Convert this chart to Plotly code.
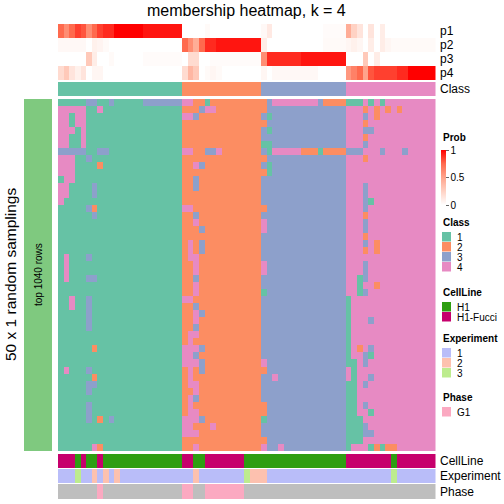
import plotly.graph_objects as go

W = H = 504

# ---------------- data ----------------
n_cols = 67
classes = [1]*22 + [2]*14 + [3]*15 + [4]*16

p1 = [.75,.6,.75,.85,.8,.6,.75,.85,.9,.9,1,1,1,1,1,.95,.95,.95,.95,.95,.95,.95,
      0,0,0,0,.03,0,0,0,0,0,0,0,0,0,
      .04,.12,0,0,0,0,0,0,0,0,0,.02,.02,.02,.02,
      .45,.25,.15,0,.15,0,.1,0,0,0,0,0,0,0,0,0]
p2 = [.04,.04,.04,.04,.04,0,.08,.06,.03,0,0,0,0,0,0,0,0,0,0,0,0,0,
      .75,.6,.45,.75,.9,.9,.95,.95,.95,.95,.95,.95,.95,.95,
      .1,0,0,0,0,0,0,0,0,0,0,.03,.03,.03,.03,
      .05,.08,.05,0,.1,0,.1,.05,.03,.03,.03,.03,.03,.03,.03,.03]
p3 = [0,0,0,0,0,.3,.1,0,0,.03,0,0,0,0,0,.02,.02,.02,.02,.02,.02,.02,
      0,.2,.2,0,0,.02,.02,.02,.02,.02,.02,.02,.02,.02,
      .6,.9,.9,.9,.9,.9,.9,.95,.95,.95,.95,.95,.95,.95,.95,
      0,0,0,.3,0,.1,0,0,0,0,0,0,0,0,0,0]
p4 = [.2,.3,.15,.08,.15,0,.05,.05,0,0,0,0,0,0,0,0,0,0,0,0,0,0,
      .2,.4,.3,0,.03,.05,.03,0,0,0,0,0,0,0,
      .05,0,.04,.04,.04,.04,.04,.04,.04,.04,0,0,0,0,0,
      .55,.65,.75,.5,.8,.85,.85,.85,.85,.9,.9,1,1,1,1,1]

# membership of each sampling (rows) per sample (columns)
membership_rows = [
    "1111133113111113333333" "44221222222222" "234444444432222" "1114141444444444",
    "4444411411111111111111" "22234422222222" "233333333333333" "4442424242444444",
    "4414411111111111111111" "44322222222222" "313333333333333" "4443424444444444",
    "4414411111111111111111" "22222222222222" "233333333333333" "4442444444444444",
    "4441411111111111111111" "22222222222222" "313333333333333" "4443344444444444",
    "4411411111111111111111" "22222222222222" "333333333333333" "4442444444444444",
    "4411411111111111111111" "22222222222222" "113333333333333" "4443444444444444",
    "3333311331111111111111" "44223342222222" "314444422212222" "3334443444344444",
    "4441131111111111111111" "22222222222222" "233333333333333" "4442444444444444",
    "4441111211111111111111" "22432222222222" "313333333333333" "4444444444444444",
    "4441111111111111111111" "22222222222222" "213333333333333" "4444444444444444",
    "1441111111111111111111" "22322222222222" "333333333333333" "4444444444444444",
    "4411113111111111111111" "22322222222222" "333333333333333" "4443444444444444",
    "4411113111111111111111" "22222222222222" "333333333333333" "4443444444444444",
    "4111111111111111111111" "22222222222222" "333333333333333" "4443144444444444",
    "1111132111111111111111" "44222222222222" "233333333333333" "4443444444444444",
    "1111113111111111111111" "22322222222222" "333333333333333" "4442444444444444",
    "1111111111111111111111" "22422222222222" "433333333333333" "4443444444444444",
    "1111111111111111111111" "22232222222222" "433333333333333" "4443444444444444",
    "1111111111111111111111" "22222222222222" "333333333333333" "4442444444444444",
    "1111111111111111111111" "24232222222222" "333333333333333" "4443424444444444",
    "1111111111111111111111" "24232222222222" "333333333333333" "4442424444444444",
    "1411131111111111111111" "24422222222222" "333333333333333" "4444444444444444",
    "1411111111111111111111" "22422222222222" "433333333333333" "4443444444444444",
    "1411111111111111111111" "22422222222222" "433333333333333" "4443444444444444",
    "1411133111111111111111" "22322222222222" "333333333333333" "4413444444444444",
    "1111111111111111111111" "22422222222222" "333333333333333" "4414424444444444",
    "1111111111111111111111" "22422222222222" "133333333333333" "4413444444444444",
    "1141131111111111111111" "44222222222222" "333333333333333" "1444444444444444",
    "1141131111111111111111" "22322222222222" "333333333333333" "1444444444444444",
    "1111131111111111111111" "22432222222222" "333333333333333" "1444444444444444",
    "1111131111111111111111" "22422222222222" "333333333333333" "1444344444444444",
    "1111131111111111111111" "22322222222222" "333333333333333" "1444444444444444",
    "1111111111111111111111" "24422222222222" "333333333333333" "1444444444444444",
    "1111111111111111111111" "24222222222222" "333333333333333" "1444444444444444",
    "1111112111111111111111" "44432222222222" "333333333333333" "1424344444444444",
    "1111111111111111111111" "44322222222222" "333333333333333" "1443144444444444",
    "1111111111111111111111" "44432222222222" "433333333333333" "1143444444444444",
    "1411131111111111111111" "24232222222222" "233333333333333" "4144444444444444",
    "1111112111111111111111" "24222222222222" "334333333333333" "4144344444444444",
    "1111133111111111111111" "24422222222222" "333333333333333" "1143444444444444",
    "1111131111111111111111" "22422222222222" "333333333333333" "1144444444444444",
    "1111111111111111111111" "24322222222222" "333333333333333" "1144444444444444",
    "1111131111111111111111" "24222222222222" "233333333333333" "1143444444444444",
    "1111131111111111111111" "24422222222222" "233333333333333" "1144144444444444",
    "1111131213111111111111" "44432222222222" "133333333333333" "1114444444444444",
    "1111111111111111111111" "44222422222222" "333333333333333" "1113444444444444",
    "1111111111111111111111" "44422222222222" "333333333333333" "1113344444444444",
    "1111111111111111111111" "22222222222222" "233333333333333" "1114444444444444",
    "1111114211111111111111" "22422222222222" "433433333333333" "1444121224444444",
]

# CellLine: 0 = H1, 1 = H1-Fucci
cellline = [1,1,1,0,1,0,0,1] + [0]*14 + [1,1,0,0] + [1]*7 + [0]*18 + [1]*8 + [0] + [1]*7
# Experiment: 1, 2, 3
experiment = [1,1,1,3,1,1,2,1,2,1,2] + [1]*13 + [2] + [1]*8 + [3,2,2,2] + [1]*22 + [3] + [1]*7
# Phase: 0 = NA, 1 = G1
phase = [0]*7 + [1] + [0]*14 + [1,1,0,0] + [1]*7 + [0]*34

class_labels = ["1", "2", "3", "4"]
cellline_labels = ["H1", "H1-Fucci"]
experiment_labels = ["1", "2", "3"]
phase_labels = ["G1"]

# ---------------- styles ----------------
class_colors = ["#66C2A5", "#FC8D62", "#8DA0CB", "#E78AC3"]
cellline_colors = ["#2E9E12", "#C6006C"]
experiment_colors = ["#B9BDF9", "#FDC1AF", "#BDEC8E"]
phase_colors = ["#BEBEBE", "#FBA9C1"]
prob_scale = [[0, "#FFFFFF"], [0.25, "#FFD2C4"], [0.5, "#FFA48C"], [0.75, "#FF6A4E"], [1, "#FF0000"]]
FONT = "Liberation Sans, Arial, Helvetica, sans-serif"


def discrete_scale(colors):
    n = len(colors)
    sc = []
    for i, c in enumerate(colors):
        sc.append([i / n, c])
        sc.append([(i + 1) / n, c])
    return sc


def px(x):
    return x / W


def py(y):
    return 1 - y / H


membership = [[int(ch) for ch in row] for row in membership_rows]
cols = list(range(n_cols))

fig = go.Figure()

# probability rows
fig.add_trace(go.Heatmap(
    z=[p1, p2, p3, p4], x=cols, y=[0, 1, 2, 3], xaxis="x", yaxis="y2",
    colorscale=prob_scale, zmin=0, zmax=1, hoverinfo="skip",
    colorbar=dict(x=px(441), xanchor="left", y=py(150), yanchor="top",
                  len=55, lenmode="pixels", thickness=5, thicknessmode="pixels",
                  xpad=0, ypad=0, outlinewidth=0,
                  tickvals=[0, 0.5, 1], ticktext=["0", "0.5", "1"],
                  ticks="outside", ticklen=3, tickcolor="#666",
                  tickfont=dict(size=10, family=FONT, color="#000")),
))
# class annotation (top)
fig.add_trace(go.Heatmap(
    z=[classes], x=cols, y=[0], xaxis="x", yaxis="y3",
    colorscale=discrete_scale(class_colors), zmin=0.5, zmax=4.5, showscale=False, hoverinfo="skip"))
# main membership heatmap
fig.add_trace(go.Heatmap(
    z=membership, x=cols, y=list(range(len(membership))), xaxis="x", yaxis="y",
    colorscale=discrete_scale(class_colors), zmin=0.5, zmax=4.5, showscale=False, hoverinfo="skip"))
# bottom annotations
fig.add_trace(go.Heatmap(
    z=[cellline], x=cols, y=[0], xaxis="x", yaxis="y4",
    colorscale=discrete_scale(cellline_colors), zmin=-0.5, zmax=1.5, showscale=False, hoverinfo="skip"))
fig.add_trace(go.Heatmap(
    z=[experiment], x=cols, y=[0], xaxis="x", yaxis="y5",
    colorscale=discrete_scale(experiment_colors), zmin=0.5, zmax=3.5, showscale=False, hoverinfo="skip"))
fig.add_trace(go.Heatmap(
    z=[phase], x=cols, y=[0], xaxis="x", yaxis="y6",
    colorscale=discrete_scale(phase_colors), zmin=-0.5, zmax=1.5, showscale=False, hoverinfo="skip"))

hid = dict(visible=False, fixedrange=True)
fig.update_layout(
    width=W, height=H, margin=dict(l=0, r=0, t=0, b=0),
    paper_bgcolor="white", plot_bgcolor="white", showlegend=False,
    font=dict(family=FONT, size=12, color="#000"),
    xaxis=dict(domain=[px(58), px(435.5)], range=[-0.5, n_cols - 0.5], anchor="y", **hid),
    yaxis=dict(domain=[py(451), py(99)], range=[len(membership) - 0.5, -0.5], **hid),
    yaxis2=dict(domain=[py(80), py(24)], range=[3.5, -0.5], anchor="x", **hid),
    yaxis3=dict(domain=[py(96), py(82)], range=[0.5, -0.5], anchor="x", **hid),
    yaxis4=dict(domain=[py(468), py(454)], range=[0.5, -0.5], anchor="x", **hid),
    yaxis5=dict(domain=[py(483), py(469)], range=[0.5, -0.5], anchor="x", **hid),
    yaxis6=dict(domain=[py(499), py(484)], range=[0.5, -0.5], anchor="x", **hid),
)

shapes = []
ann = []


def text(x, y, s, size=12, bold=False, xanchor="left", angle=0):
    ann.append(dict(x=px(x), y=py(y), xref="paper", yref="paper", text=("<b>%s</b>" % s) if bold else s,
                    showarrow=False, xanchor=xanchor, yanchor="middle", textangle=angle,
                    font=dict(size=size, family=FONT, color="#000")))


# title
text(246.5, 10, "membership heatmap, k = 4", size=16, xanchor="center")
# row labels right
for lab, yc in [("p1", 31), ("p2", 45), ("p3", 59), ("p4", 73), ("Class", 89),
                ("CellLine", 461), ("Experiment", 476), ("Phase", 491.5)]:
    text(438, yc, lab, size=12)

# left bar
shapes.append(dict(type="rect", xref="paper", yref="paper", x0=px(24), x1=px(52), y0=py(451), y1=py(99),
                   fillcolor="#7FC97F", line=dict(width=0)))
text(38, 275, "top 1040 rows", size=10, xanchor="center", angle=-90)
text(10, 275, "50 x 1 random samplings", size=15.5, xanchor="center", angle=-90)

# legends
text(441, 137.5, "Prob", size=10, bold=True)


def legend_block(title, ytitle, labels, colors):
    text(441, ytitle, title, size=10, bold=True)
    y0 = ytitle + 10
    for lab, col in zip(labels, colors):
        shapes.append(dict(type="rect", xref="paper", yref="paper", x0=px(442), x1=px(451),
                           y0=py(y0 + 9.5), y1=py(y0), fillcolor=col, line=dict(width=0)))
        text(455, y0 + 5, lab, size=10)
        y0 += 10


legend_block("Class", 222, class_labels, class_colors)
legend_block("CellLine", 292, cellline_labels, cellline_colors)
legend_block("Experiment", 338, experiment_labels, experiment_colors)
legend_block("Phase", 397, phase_labels, phase_colors[1:])

fig.update_layout(shapes=shapes, annotations=ann)
fig.write_html("out.html", config={"displayModeBar": False},
               post_script="document.body.style.margin='0';document.body.style.padding='0';")
